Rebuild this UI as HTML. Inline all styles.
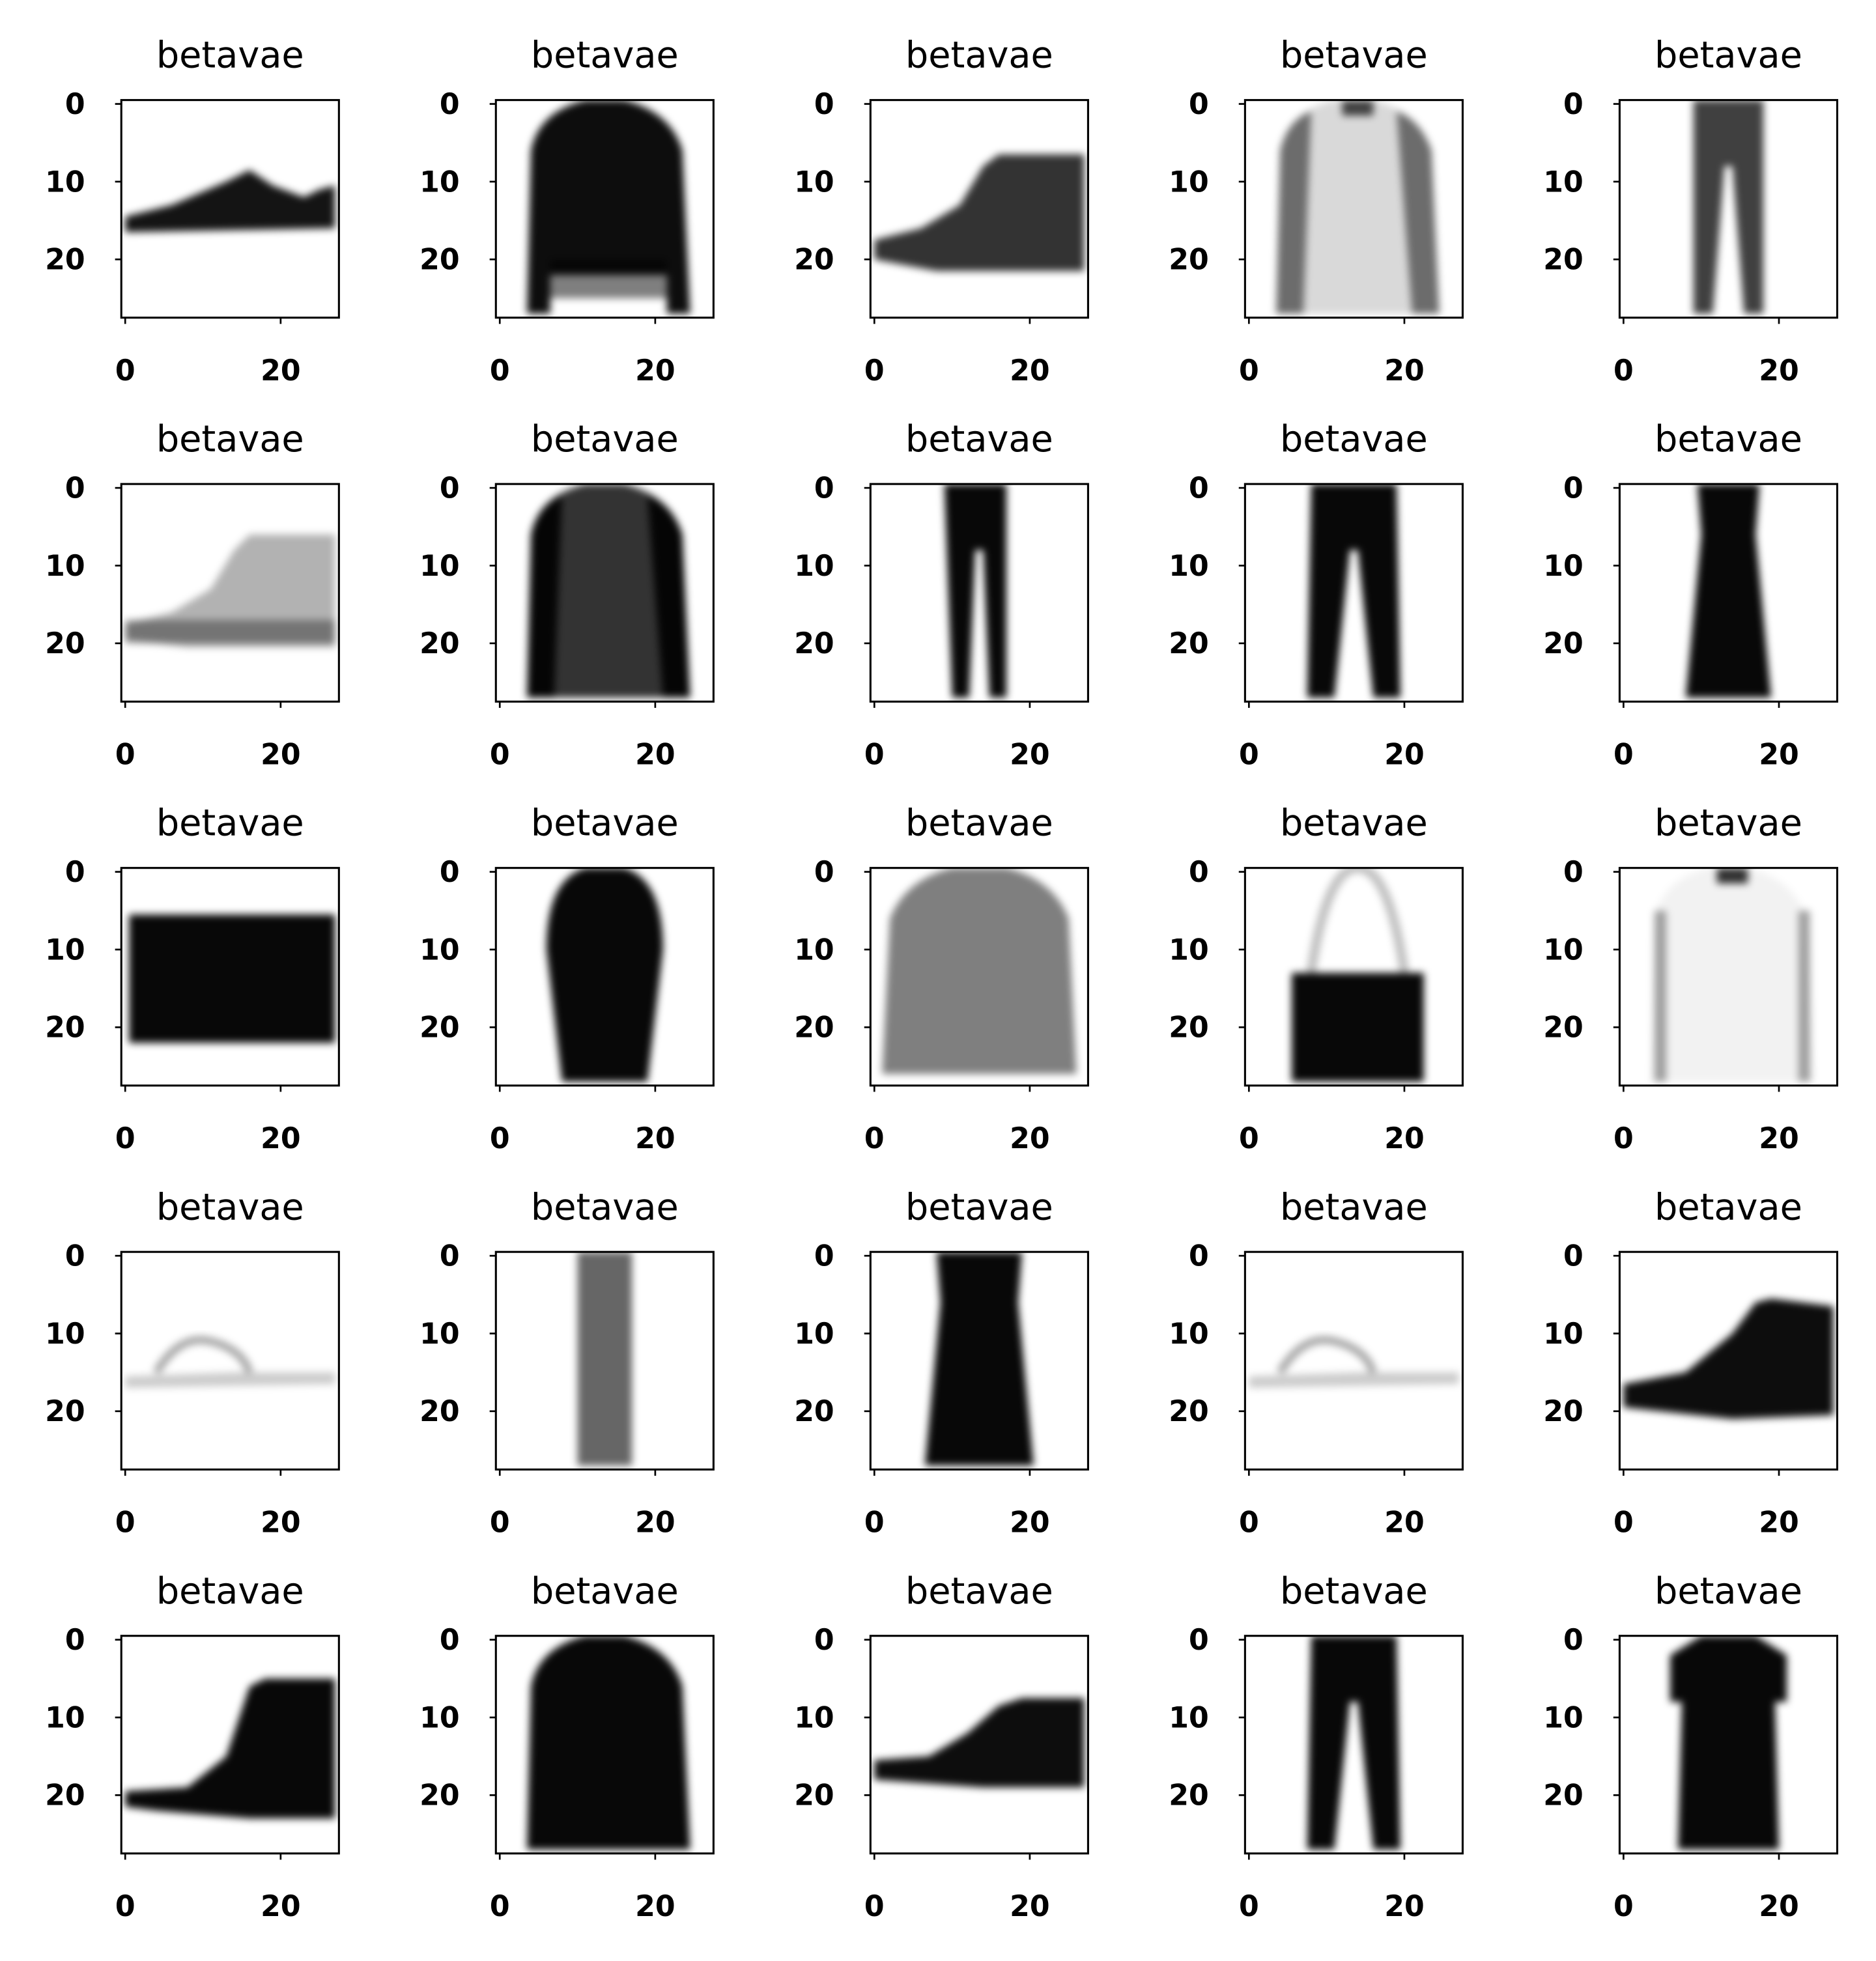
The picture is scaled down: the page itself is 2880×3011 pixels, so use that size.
<!DOCTYPE html>
<html><head><meta charset="utf-8"><style>
html,body{margin:0;padding:0;background:#fff}
svg{display:block}
text{font-family:"DejaVu Sans","Liberation Sans",sans-serif}
</style></head><body>
<svg id="fig" width="2880" height="3011" viewBox="0 0 1500 1568" preserveAspectRatio="none" xmlns="http://www.w3.org/2000/svg">
<defs>
<filter id="blur" x="-20%" y="-20%" width="140%" height="140%"><feGaussianBlur stdDeviation="0.5"/></filter>
<clipPath id="imgclip"><rect x="-0.5" y="-0.5" width="28" height="28"/></clipPath>
</defs>
<rect width="1500" height="1568" fill="#fff"/>
</svg>
<script>
const kinds = ['sneaker','sweaterLight','boot','shirt','trousersGray',
  'bootLight','sweaterMid','trousersThin','trousers','dress',
  'boxbag','coat','sweaterGray','bag','shirtLight',
  'sandal','column','dressWide','sandal','highSneaker',
  'ankleboot','sweater','sneaker2','trousers','tshirt'];
const titles = ['betavae','betavae','betavae','betavae','betavae'];
const xTicks = [0, 20];
const yTicks = [0, 10, 20];

const NS='http://www.w3.org/2000/svg';
const svg=document.getElementById('fig');
const X0=97, DX=299.5, Y0=80, DY=307, W=174, H=174;
const S=W/28;
function mk(tag,attrs,parent){const e=document.createElementNS(NS,tag);for(const k in attrs)e.setAttribute(k,attrs[k]);(parent||svg).appendChild(e);return e;}
const sleeves='M3.5,27 L4,6 Q5,2 8,1 L7,27 Z M24.5,27 L23.5,6 Q22,2 19,1 L21,27 Z';
const shapes={
 sneaker:[['path',{d:'M0,14.5 L6,13 L13,10 L16,8.5 L19,10.5 L23,12 L25,11 L27,10.5 L27,16 L0,16.5 Z'},0.92]],
 sneaker2:[['path',{d:'M0,15.5 L7,15 L12,12 L16,8.5 L19,7.5 L27,7.5 L27,19 L14,19 L0,18 Z'},0.95]],
 highSneaker:[['path',{d:'M0,16.5 L8,15 L14,10 L17,6 L19,5.5 L27,6.5 L27,20.5 L14,21 L0,19.5 Z'},0.95]],
 boot:[['path',{d:'M0,17.5 L6,16 L11,13 L14,8 L16,6.5 L27,6.5 L27,21.5 L8,21.5 L0,20 Z'},0.8]],
 bootLight:[['path',{d:'M0,17.5 L6,16 L11,13 L14,8 L16,6 L27,6 L27,20.5 L8,20.5 L0,19.5 Z'},0.3],['rect',{x:0,y:17,width:27,height:3},0.35]],
 ankleboot:[['path',{d:'M0,19.5 L8,19 L13,15 L16,6 L18,5 L27,5 L27,23 L16,23 L4,22 L0,21.5 Z'},0.97]],
 sweater:[['path',{d:'M3.5,27 L4,6 Q5,1 11,-0.5 L16,-0.5 Q22,1 23.5,6 L24.5,27 Z'},0.97]],
 sweaterLight:[['path',{d:'M3.5,27 L4,6 Q5,1 11,-0.5 L16,-0.5 Q22,1 23.5,6 L24.5,27 L21.5,27 L21.5,22 L6.5,22 L6.5,27 Z'},0.95],['rect',{x:6.5,y:20,width:15,height:5},0.5]],
 sweaterMid:[['path',{d:'M3.5,27 L4,6 Q5,1 11,-0.5 L16,-0.5 Q22,1 23.5,6 L24.5,27 Z'},0.8],['path',{d:sleeves},0.9]],
 sweaterGray:[['path',{d:'M1,26 L2,6 Q4,1 10,-0.5 L17,-0.5 Q23,1 25,6 L26,26 Z'},0.5]],
 shirt:[['path',{d:'M3.5,27 L4,6 Q5,1 11,-0.5 L16,-0.5 Q22,1 23.5,6 L24.5,27 Z'},0.15],['path',{d:sleeves},0.5],['rect',{x:12,y:-0.5,width:4,height:2},0.7]],
 shirtLight:[['path',{d:'M3.5,27 L4,6 Q5,1 11,-0.5 L16,-0.5 Q22,1 23.5,6 L24.5,27 Z'},0.05],['rect',{x:4,y:5,width:1.5,height:22},0.35],['rect',{x:22.5,y:5,width:1.5,height:22},0.35],['rect',{x:12,y:-0.5,width:4,height:2},0.8]],
 trousers:[['path',{d:'M8,-0.5 L19,-0.5 L19.5,27 L16,27 L14,8 L13,8 L11,27 L7.5,27 Z'},0.97]],
 trousersThin:[['path',{d:'M9,-0.5 L17,-0.5 L17,27 L14.8,27 L14,8 L13,8 L12.2,27 L10,27 Z'},0.97]],
 trousersGray:[['path',{d:'M9,-0.5 L18,-0.5 L18,27 L15.5,27 L14,8 L13,8 L11.5,27 L9,27 Z'},0.75]],
 dress:[['path',{d:'M9.5,-0.5 L17.5,-0.5 L17,6 L19,27 L8,27 L10,6 Z'},0.97]],
 dressWide:[['path',{d:'M8,-0.5 L19,-0.5 L18.5,6 L20.5,27 L6.5,27 L8.5,6 Z'},0.97]],
 tshirt:[['path',{d:'M6,2 L10,-0.5 L17,-0.5 L21,2 L21,8 L19.5,8 L20,27 L7,27 L7.5,8 L6,8 Z'},0.97]],
 coat:[['path',{d:'M8,27 L6,10 Q6,1 11,-0.5 L16,-0.5 Q21,1 21,10 L19,27 Z'},0.97]],
 boxbag:[['rect',{x:0.5,y:5.5,width:26.5,height:16.5},0.97]],
 bag:[['rect',{x:5.5,y:13,width:17,height:14},0.97],['path',{d:'M8,13 Q10,-0.5 14,-0.5 Q18,-0.5 20,13',fill:'none',stroke:'#000','stroke-width':1.2},0.25]],
 sandal:[['path',{d:'M0,17 L27,16.5 L27,15 L14,15 L0,15.5 Z'},0.2],['path',{d:'M4,15 Q7,10 11,11 Q15,12 16,15',fill:'none',stroke:'#000','stroke-width':1},0.35]],
 column:[['rect',{x:10,y:-0.5,width:7,height:27.5},0.6]]
};
const yPix=v=>(v+0.5)*S, xPix=v=>(v+0.5)*S;
kinds.forEach((k,i)=>{
  const r=Math.floor(i/5), c=i%5;
  const ax=X0+c*DX, ay=Y0+r*DY;
  const g=mk('g',{transform:`translate(${ax},${ay})`});
  
  
  const img=mk('g',{transform:`scale(${S}) translate(0.5,0.5)`,'clip-path':'url(#imgclip)',filter:'url(#blur)'},g);
  
  
  (shapes[k]||[]).forEach(([tag,a,op])=>{const at=Object.assign({},a);if(!at.fill)at.fill='#000';at['fill-opacity']=op;if(at.stroke)at['stroke-opacity']=op;mk(tag,at,img);});
  const frame=mk('rect',{x:0,y:0,width:W,height:H,fill:'none',stroke:'#000','stroke-width':1.6},g);
  
  
  const t=mk('text',{x:W/2,y:-26,'text-anchor':'middle','font-size':29},g);
  t.textContent=titles[c];
  
  
  yTicks.forEach(v=>{
    const y=yPix(v);
    mk('line',{x1:0,x2:-5,y1:y,y2:y,stroke:'#000','stroke-width':1.4},g);
    const tl=mk('text',{x:-29,y:y+8,'text-anchor':'end','font-size':23,'font-weight':'bold'},g);
    tl.textContent=v;
    
    
  });
  xTicks.forEach(v=>{
    const x=xPix(v);
    mk('line',{x1:x,x2:x,y1:H,y2:H+5,stroke:'#000','stroke-width':1.4},g);
    const tl=mk('text',{x:x,y:H+50,'text-anchor':'middle','font-size':23,'font-weight':'bold'},g);
    tl.textContent=v;
    
    
  });
});
</script>
</body></html>
